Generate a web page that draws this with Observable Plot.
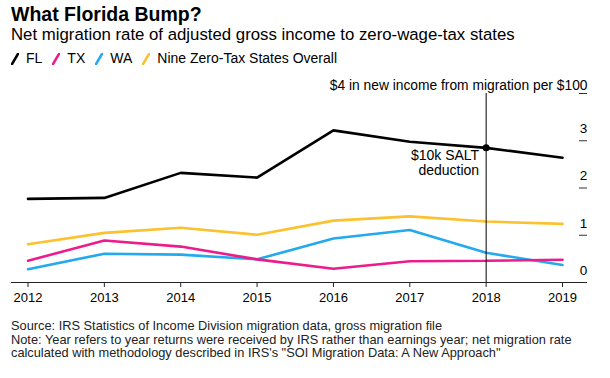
<!DOCTYPE html>
<html><head><meta charset="utf-8">
<script src="https://cdn.jsdelivr.net/npm/d3@7"></script>
<script src="https://cdn.jsdelivr.net/npm/@observablehq/plot@0.6"></script>
<style>
body{margin:0;background:#fff;font-family:"Liberation Sans",Arial,sans-serif;color:#000;width:610px;height:378px;overflow:hidden;position:relative}
.abs{position:absolute;left:11px;white-space:nowrap}
#title{top:2px;font-weight:bold;font-size:19.5px;line-height:24px}
#subtitle{top:24px;font-size:16.8px;line-height:21px}
#legend{top:50px;font-size:14px;line-height:17px;display:flex;align-items:center}
#legend .item{display:flex;align-items:center;margin-right:10px}
#legend svg{margin-right:7px}
#chart{position:absolute;left:0;top:70px}
#caption{top:319px;font-size:12.8px;line-height:13.5px;color:#222}
</style></head>
<body>
<div id="title" class="abs">What Florida Bump?</div>
<div id="subtitle" class="abs">Net migration rate of adjusted gross income to zero-wage-tax states</div>
<div id="legend" class="abs"></div>
<div id="chart"></div>
<div id="caption" class="abs">Source: IRS Statistics of Income Division migration data, gross migration file<br>Note: Year refers to year returns were received by IRS rather than earnings year; net migration rate<br>calculated with methodology described in IRS's "SOI Migration Data: A New Approach"</div>
<script>
const years = [2012, 2013, 2014, 2015, 2016, 2017, 2018, 2019];
const fl   = [1.77, 1.79, 2.32, 2.22, 3.22, 2.98, 2.85, 2.64];
const tx   = [0.46, 0.89, 0.76, 0.49, 0.29, 0.45, 0.46, 0.48];
const wa   = [0.28, 0.61, 0.59, 0.49, 0.93, 1.11, 0.63, 0.37];
const nine = [0.81, 1.05, 1.16, 1.01, 1.31, 1.40, 1.29, 1.24];
const seriesNames = ["FL", "TX", "WA", "Nine Zero-Tax States Overall"];
const seriesColors = ["#000000", "#ec1c8c", "#22a9ee", "#fbc12e"];
const yTicks = [0, 1, 2, 3];
const yTickMarks = [1, 2, 3, 4];
const unitLabel = "$4 in new income from migration per $100";
const eventYear = 2018;
const eventLabel = "$10k SALT\ndeduction";

const seriesValues = [fl, tx, wa, nine];
const rows = [];
// draw order: Nine, WA, TX, FL (FL on top)
[3, 2, 1, 0].forEach(i => years.forEach((yr, j) => rows.push({series: seriesNames[i], year: yr, value: seriesValues[i][j]})));
const eventRow = {year: eventYear, value: fl[years.indexOf(eventYear)]};

// legend
const leg = document.getElementById("legend");
seriesNames.forEach((n, i) => {
  const it = document.createElement("div");
  it.className = "item";
  it.innerHTML = `<svg width="8" height="12"><line x1="1" y1="11" x2="7" y2="1" stroke="${seriesColors[i]}" stroke-width="2.6" stroke-linecap="round"/></svg><span>${n}</span>`;
  leg.appendChild(it);
});

const W = 610, H = 245, mL = 11, mR = 23;
const chart = Plot.plot({
  width: W, height: H,
  marginTop: 23, marginBottom: 33, marginLeft: mL, marginRight: mR,
  style: {fontFamily: '"Liberation Sans", Arial, sans-serif', fontSize: "13px", color: "#000", background: "#fff"},
  x: {domain: [2012, 2019], insetLeft: 16.5, insetRight: 25, label: null},
  y: {domain: [0, 4], axis: null},
  color: {domain: seriesNames, range: seriesColors},
  marks: [
    Plot.axisX({ticks: years, tickFormat: d => String(d), tickSize: 5, tickPadding: 5, fontSize: 13, stroke: "#222", label: null}),
    Plot.ruleY([0], {stroke: "#222", strokeWidth: 1}),
    Plot.tickY(yTickMarks, {y: d => d, insetLeft: W - mL - mR - 8, stroke: "#333", strokeWidth: 1}),
    Plot.text(yTicks, {y: d => d, text: d => String(d), frameAnchor: "right", dx: -4, dy: -12, textAnchor: "middle", fontSize: 13.5}),
    Plot.text([unitLabel], {frameAnchor: "top-right", dy: -13, textAnchor: "end", text: d => d, fontSize: 13.8}),
    Plot.line(rows, {x: "year", y: "value", z: "series", stroke: "series", strokeWidth: 2.6, strokeLinejoin: "miter"}),
    Plot.ruleX([eventYear], {stroke: "#000", strokeWidth: 1}),
    Plot.dot([eventRow], {x: "year", y: "value", r: 3.5, fill: "#000"}),
    Plot.text([eventRow], {x: "year", y: "value", text: () => eventLabel, textAnchor: "end", lineAnchor: "top", dx: -7, dy: 1.5, fontSize: 14, lineHeight: 1.07})
  ]
});
document.getElementById("chart").appendChild(chart);
</script>
</body></html>
